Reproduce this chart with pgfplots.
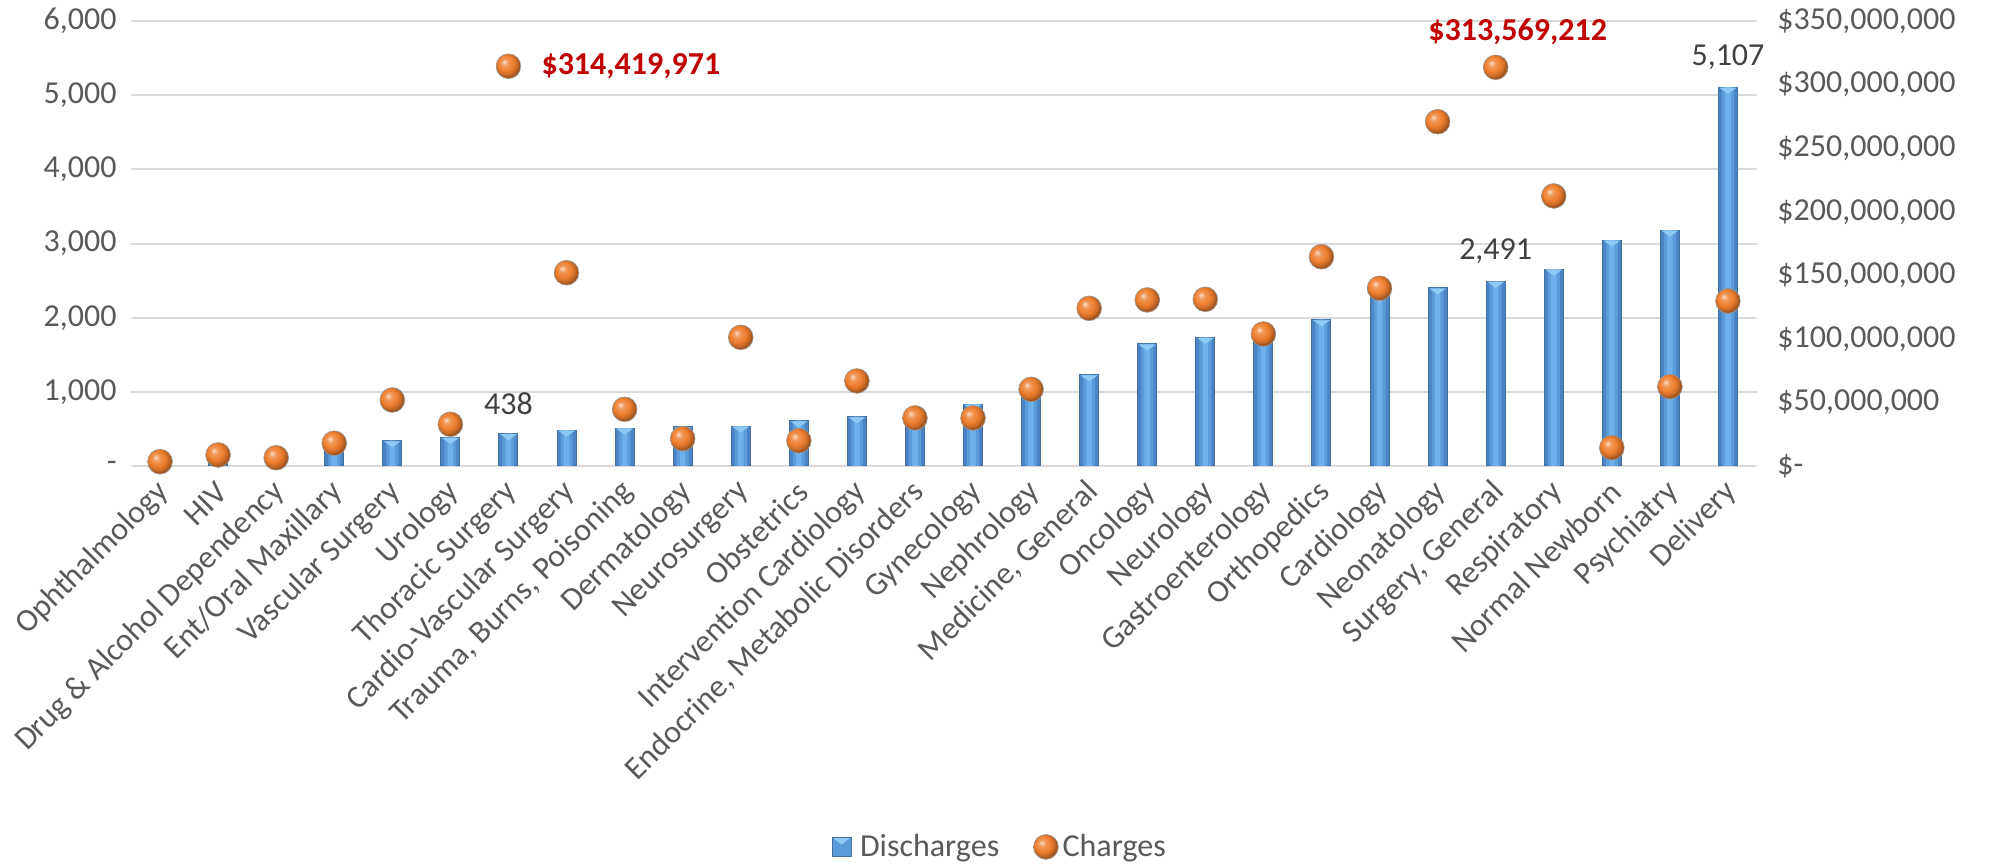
\documentclass[border=0pt]{standalone}
\usepackage{pgfplots}
\pgfplotsset{compat=1.18}
\usepackage{pgfplotstable}
\usepackage{fontspec}
\setmainfont{Carlito}
\definecolor{txtgray}{HTML}{595959}
\definecolor{lblgray}{HTML}{404040}
\definecolor{gridgray}{HTML}{D9D9D9}
\definecolor{barblue}{HTML}{4A84C4}
\definecolor{bardark}{HTML}{41709E}
\definecolor{barmid}{HTML}{5A9BDA}
\definecolor{barlight}{HTML}{6DB0EC}
\definecolor{bartop}{HTML}{8DCBF6}
\definecolor{ballorange}{HTML}{EE7E2E}
\definecolor{lblred}{HTML}{C00000}
\makeatletter
\pgfdeclareradialshading[tikz@ball]{ball}{\pgfqpoint{-9bp}{9bp}}{%
  color(0bp)=(tikz@ball!25!white);
  color(7bp)=(tikz@ball!80!white);
  color(16bp)=(tikz@ball);
  color(23bp)=(tikz@ball!82!black);
  color(25bp)=(tikz@ball!70!black);
  color(50bp)=(tikz@ball!70!black)}
\makeatother

\pgfplotstableread{
x dis chg
0 60 3400000
1 120 8700000
2 160 6500000
3 280 17900000
4 341 51900000
5 387 32800000
6 438 314419971
7 485 152000000
8 512 44600000
9 530 21500000
10 539 101200000
11 611 19900000
12 665 66900000
13 700 37800000
14 834 37800000
15 1000 60300000
16 1230 124000000
17 1645 130600000
18 1735 131100000
19 1800 103800000
20 1973 164600000
21 2300 139800000
22 2401 270800000
23 2491 313569212
24 2656 212400000
25 3047 14400000
26 3182 62400000
27 5107 129800000
}\data

\begin{document}
\begin{tikzpicture}[font=\fontsize{16pt}{19pt}\selectfont]
\begin{axis}[
  scale only axis, width=813pt, height=222.5pt,
  xmin=-0.5, xmax=27.5, ymin=0, ymax=6000,
  axis line style={draw=none},
  ytick={0,1000,2000,3000,4000,5000,6000},
  yticklabels={-,{1,000},{2,000},{3,000},{4,000},{5,000},{6,000}},
  yticklabel style={text=txtgray, anchor=east, inner sep=0pt, xshift=-7pt},
  ymajorgrids, grid style={gridgray, line width=1pt},
  xtick={0,...,27},
  xticklabels={Ophthalmology, HIV, Drug \& Alcohol Dependency, Ent/Oral Maxillary, Vascular Surgery, Urology, Thoracic Surgery, Cardio-Vascular Surgery, {Trauma, Burns, Poisoning}, Dermatology, Neurosurgery, Obstetrics, Intervention Cardiology, {Endocrine, Metabolic Disorders}, Gynecology, Nephrology, {Medicine, General}, Oncology, Neurology, Gastroenterology, Orthopedics, Cardiology, Neonatology, {Surgery, General}, Respiratory, Normal Newborn, Psychiatry, Delivery},
  xticklabel style={text=txtgray, xshift=2pt, yshift=-10.5pt, rotate=45, anchor=east, inner sep=0pt},
  major tick length=0pt, tick style={draw=none},
  clip=false,
]
\addplot[ybar, bar shift=0pt, bar width=9.5pt, draw=bardark, line width=0.5pt, fill=barblue]
  table[x=x,y=dis]{\data};
\addplot[ybar, bar shift=0pt, bar width=6pt, draw=none, fill=barmid]
  table[x=x,y=dis]{\data};
\addplot[ybar, bar shift=0pt, bar width=2.8pt, draw=none, fill=barlight]
  table[x=x,y=dis]{\data};
\addplot[only marks, mark=triangle*, mark size=3.2pt,
  mark options={yshift=-1.3pt, rotate=180, xscale=1.45, yscale=0.6, fill=bartop, draw=bartop, line width=0.1pt}]
  table[x=x,y=dis]{\data};
\node[text=lblgray, anchor=center, yshift=15pt] at (axis cs:6,438) {438};
\node[text=lblgray, anchor=center, yshift=15pt] at (axis cs:23,2491) {2,491};
\node[text=lblgray, anchor=center, yshift=15pt] at (axis cs:27,5107) {5,107};
\end{axis}
\begin{axis}[
  scale only axis, width=813pt, height=222.5pt,
  xmin=-0.5, xmax=27.5, ymin=0, ymax=350000000,
  axis line style={draw=none},
  xtick=\empty,
  scaled y ticks=false,
  ytick={0,50000000,100000000,150000000,200000000,250000000,300000000,350000000},
  yticklabels={\$-,{\$50,000,000},{\$100,000,000},{\$150,000,000},{\$200,000,000},{\$250,000,000},{\$300,000,000},{\$350,000,000}},
  yticklabel pos=right,
  yticklabel style={text=txtgray, anchor=west, inner sep=0pt, xshift=10pt},
  major tick length=0pt, tick style={draw=none},
  clip=false,
  legend style={at={(0.5344,-0.856)}, anchor=center, draw=none, fill=none,
    text=txtgray, font=\fontsize{16pt}{19pt}\selectfont,
    /tikz/every even column/.append style={column sep=15pt}},
  legend columns=2,
]
\addlegendimage{legend image code/.code={\path[draw=none, fill=none] (-1pt,0pt) -- (12pt,0pt); \draw[draw=bardark, line width=0.5pt, fill=barmid] (0pt,-4.75pt) rectangle (9.5pt,4.75pt); \fill[bartop] (1.2pt,4.2pt) -- (8.3pt,4.2pt) -- (4.75pt,1.5pt) -- cycle;}}
\addlegendentry{Discharges}
\addplot[only marks, mark=ball, mark size=6.2pt,
  mark options={ball color=ballorange, draw=gray!80, line width=0.3pt}]
  table[x=x,y=chg]{\data};
\addlegendentry{Charges}
\node[text=lblred, font=\fontsize{16pt}{19pt}\selectfont\bfseries, anchor=west, xshift=13pt] at (axis cs:6,314419971) {\$314,419,971};
\node[text=lblred, font=\fontsize{16pt}{19pt}\selectfont\bfseries, anchor=center, xshift=11pt, yshift=18pt] at (axis cs:23,313569212) {\$313,569,212};
\end{axis}
\path (-65.5pt,-200pt) rectangle (936pt,233pt);
\end{tikzpicture}
\end{document}
